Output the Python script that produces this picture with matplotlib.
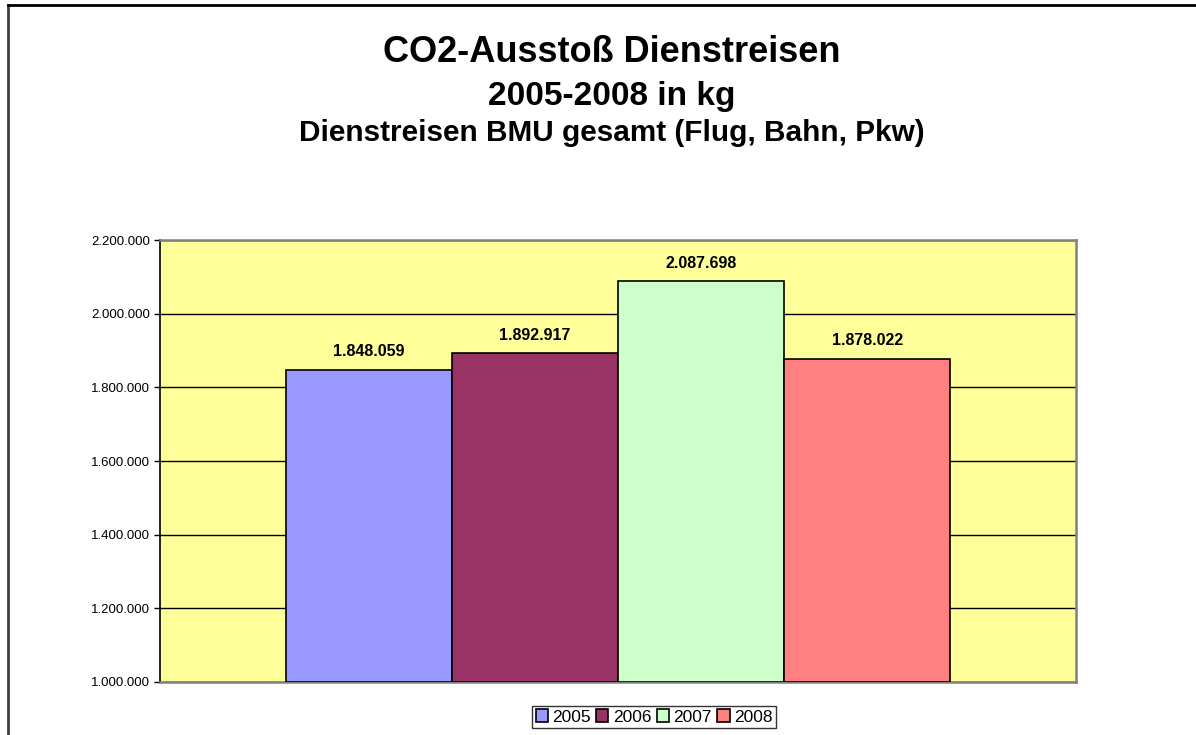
import matplotlib
matplotlib.use("Agg")
import matplotlib.pyplot as plt
from matplotlib.lines import Line2D
from matplotlib.patches import Patch

years = ["2005", "2006", "2007", "2008"]
values = [1848059, 1892917, 2087698, 1878022]
colors = ["#9999FF", "#993366", "#CCFFCC", "#FF8080"]
yticks = [1000000, 1200000, 1400000, 1600000, 1800000, 2000000, 2200000]
title_lines = ["CO2-Ausstoß Dienstreisen", "2005-2008 in kg", "Dienstreisen BMU gesamt (Flug, Bahn, Pkw)"]

def de_fmt(v):
    return f"{v:,.0f}".replace(",", ".")

plt.rcParams['font.family'] = ['Liberation Sans', 'DejaVu Sans']

W, H = 1196, 735
fig = plt.figure(figsize=(W / 100, H / 100), dpi=100)
fig.patch.set_facecolor("white")

# chart frame (left & top edges visible)
fig.add_artist(Line2D([8 / W, 8 / W], [0, 1 - 5 / H], transform=fig.transFigure, color="#404040", lw=2))
fig.add_artist(Line2D([8 / W, 1], [1 - 5 / H, 1 - 5 / H], transform=fig.transFigure, color="black", lw=2))

ax = fig.add_axes([160 / W, (H - 682) / H, 916 / W, 442 / H])
ax.set_facecolor("#FFFF99")

xs = list(range(len(years)))
for i, (x, v, c) in enumerate(zip(xs, values, colors)):
    ax.bar(x, v - yticks[0], bottom=yticks[0], width=1.0, color=c, edgecolor="black", linewidth=1.2, zorder=3, label=years[i])
    ax.text(x, v + 28000, de_fmt(v), ha="center", va="bottom", fontsize=11.5, fontweight="bold", zorder=4)

ax.set_xlim(-1.255, 4.255)
ax.set_ylim(yticks[0], yticks[-1])
ax.set_yticks(yticks)
ax.set_yticklabels([de_fmt(t) for t in yticks], fontsize=9.5)
ax.set_xticks([])
ax.yaxis.grid(True, color="black", linewidth=1, zorder=1)
ax.set_axisbelow(True)
ax.tick_params(axis="y", length=4, width=1, color="black", direction="out", pad=3)
for s in ["top", "right", "bottom"]:
    ax.spines[s].set_color("#808080")
    ax.spines[s].set_linewidth(1.8)
ax.spines["left"].set_color("black")
ax.spines["left"].set_linewidth(1.2)

# titles
fig.text(612 / W, 1 - 62 / H, title_lines[0], ha="center", va="baseline", fontsize=26, fontweight="bold")
fig.text(612 / W, 1 - 105 / H, title_lines[1], ha="center", va="baseline", fontsize=24, fontweight="bold")
fig.text(612 / W, 1 - 141 / H, title_lines[2], ha="center", va="baseline", fontsize=21.4, fontweight="bold")

handles = [Patch(facecolor=c, edgecolor="black", linewidth=1.2) for c in colors]
leg = fig.legend(handles, years, loc="center", bbox_to_anchor=(654 / W, 1 - 717 / H), ncol=4,
                 fontsize=12.5, frameon=True, fancybox=False, edgecolor="black",
                 handlelength=0.7, handleheight=0.7, handletextpad=0.25, columnspacing=0.32,
                 borderpad=0.2, borderaxespad=0)
leg.get_frame().set_linewidth(1.0)

fig.savefig("out.png", dpi=100, facecolor="white")
